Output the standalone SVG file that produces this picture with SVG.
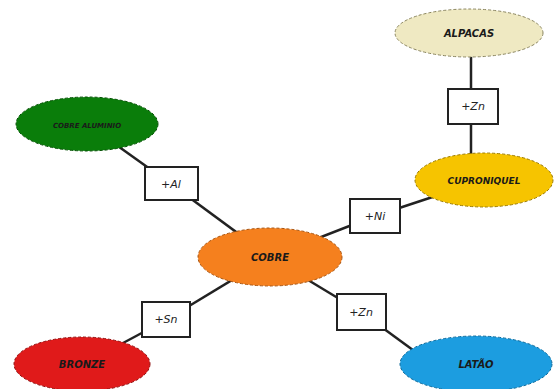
<svg xmlns="http://www.w3.org/2000/svg" width="554" height="389" viewBox="0 0 554 389">
<style>
.n{stroke-width:1;stroke-dasharray:3 2}
.t{font-family:"DejaVu Sans",sans-serif;font-weight:bold;font-style:italic;font-size:10px;fill:#1a1a1a;text-anchor:middle}
.b{fill:#fff;stroke:#222;stroke-width:2}
.bt{font-family:"DejaVu Sans",sans-serif;font-style:italic;font-size:11px;fill:#222;text-anchor:middle}
.c{stroke:#222;stroke-width:2.5;fill:none}
</style>
<rect width="554" height="389" fill="#fff"/>
<g id="connectors">
<line class="c" x1="87" y1="124" x2="171" y2="184"/>
<line class="c" x1="171" y1="184" x2="270" y2="257"/>
<line class="c" x1="270" y1="257" x2="375" y2="216"/>
<line class="c" x1="375" y1="216" x2="484" y2="180"/>
<line class="c" x1="471" y1="33" x2="471" y2="180"/>
<line class="c" x1="270" y1="257" x2="166" y2="320"/>
<line class="c" x1="166" y1="320" x2="82" y2="365"/>
<line class="c" x1="270" y1="257" x2="361" y2="312"/>
<line class="c" x1="361" y1="312" x2="432" y2="364"/>
</g>
<g id="cobre-aluminio">
<ellipse class="n" cx="87" cy="124" rx="71" ry="27" fill="#0a7d0a" stroke="#065006"/>
<text class="t" x="87" y="128" style="font-size:7px">COBRE ALUMINIO</text>
</g>
<g id="alpacas">
<ellipse class="n" cx="469" cy="33" rx="74" ry="24" fill="#efe9c2" stroke="#8a8560"/>
<text class="t" x="469" y="37">ALPACAS</text>
</g>
<g id="cuproniquel">
<ellipse class="n" cx="484" cy="180" rx="69" ry="27" fill="#f6c400" stroke="#9a7a00"/>
<text class="t" x="484" y="184" style="font-size:9px">CUPRONIQUEL</text>
</g>
<g id="cobre">
<ellipse class="n" cx="270" cy="257" rx="72" ry="29" fill="#f5801e" stroke="#a85410"/>
<text class="t" x="270" y="261">COBRE</text>
</g>
<g id="bronze">
<ellipse class="n" cx="82" cy="364" rx="68" ry="27" fill="#e01a1a" stroke="#901010"/>
<text class="t" x="82" y="368">BRONZE</text>
</g>
<g id="latao">
<ellipse class="n" cx="476" cy="364" rx="76" ry="28" fill="#1c9de0" stroke="#0e6a9a"/>
<text class="t" x="476" y="368">LATÃO</text>
</g>
<g id="box-al">
<rect class="b" x="145" y="167" width="53" height="33"/>
<text class="bt" x="171" y="188">+Al</text>
</g>
<g id="box-zn-top">
<rect class="b" x="448" y="89" width="50" height="35"/>
<text class="bt" x="473" y="110">+Zn</text>
</g>
<g id="box-ni">
<rect class="b" x="350" y="199" width="50" height="34"/>
<text class="bt" x="375" y="220">+Ni</text>
</g>
<g id="box-sn">
<rect class="b" x="142" y="302" width="48" height="35"/>
<text class="bt" x="166" y="323">+Sn</text>
</g>
<g id="box-zn-bottom">
<rect class="b" x="337" y="294" width="49" height="36"/>
<text class="bt" x="361" y="316">+Zn</text>
</g>
</svg>
